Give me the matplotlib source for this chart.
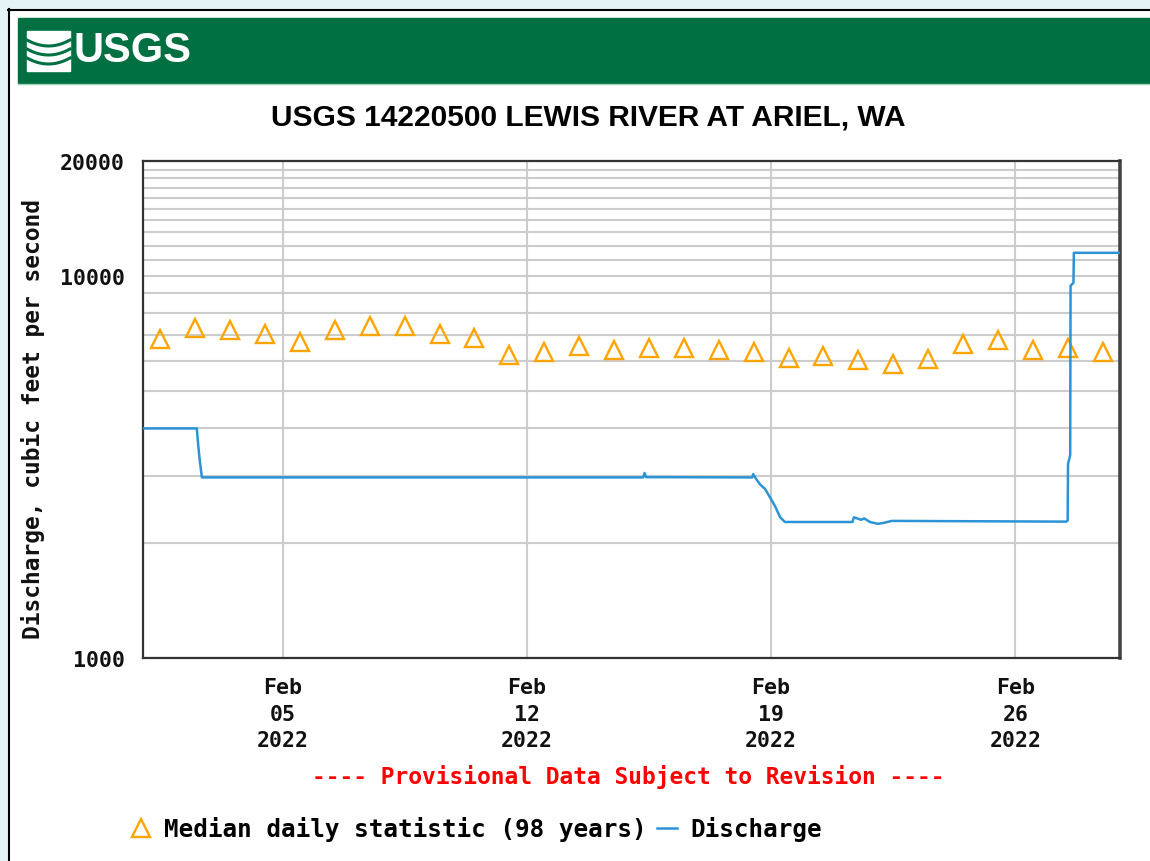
import matplotlib
matplotlib.use("Agg")
import matplotlib.pyplot as plt
import matplotlib.dates as mdates
from matplotlib.ticker import FixedLocator, FixedFormatter, NullFormatter
from matplotlib.patches import Rectangle
from matplotlib.lines import Line2D
import pandas as pd

W, H = 1150, 862

# --- data (cfs)
median_days = pd.date_range("2022-02-01 12:00", periods=28, freq="D")
median_cfs = [6860, 7310, 7200, 7050, 6720, 7200, 7380, 7380, 7050, 6870,
              6230, 6320, 6560, 6400, 6460, 6460, 6400, 6320, 6100, 6170,
              6030, 5870, 6080, 6620, 6780, 6400, 6460, 6320]

q_times = ["2022-02-01 00:00", "2022-02-02 13:00", "2022-02-02 14:00",
           "2022-02-02 15:00", "2022-02-02 16:30", "2022-02-15 08:00",
           "2022-02-15 09:00", "2022-02-15 10:00", "2022-02-18 11:00",
           "2022-02-18 11:45", "2022-02-18 13:00", "2022-02-18 16:20",
           "2022-02-18 19:50", "2022-02-18 23:20", "2022-02-19 02:40",
           "2022-02-19 06:15", "2022-02-19 09:30", "2022-02-21 08:00",
           "2022-02-21 09:00", "2022-02-21 14:00", "2022-02-21 16:00",
           "2022-02-21 20:00", "2022-02-22 01:30", "2022-02-22 06:00",
           "2022-02-22 11:00", "2022-02-27 11:00", "2022-02-27 12:00",
           "2022-02-27 12:15", "2022-02-27 13:45", "2022-02-27 14:00",
           "2022-02-27 16:00", "2022-02-27 16:15", "2022-03-01 00:00"]
q_cfs = [3990, 3990, 3600, 3300, 2970, 2970,
         3050, 2975, 2970,
         3030, 2970, 2850,
         2770, 2630, 2500,
         2335, 2270, 2270,
         2335, 2300, 2320,
         2270, 2245, 2260,
         2285, 2275, 2290,
         3220, 3400, 9430,
         9600, 11500, 11500]

x_ticks = ["2022-02-05", "2022-02-12", "2022-02-19", "2022-02-26"]
y_major = [1000, 10000, 20000]
y_minor = [2000, 3000, 4000, 5000, 6000, 7000, 8000, 9000,
           11000, 12000, 13000, 14000, 15000, 16000, 17000, 18000, 19000]

title = "USGS 14220500 LEWIS RIVER AT ARIEL, WA"
ylabel = "Discharge, cubic feet per second"
note = "---- Provisional Data Subject to Revision ----"
leg_labels = ["Median daily statistic (98 years)", "Discharge"]

mono = dict(family="DejaVu Sans Mono", weight="bold")
sans = ["Liberation Sans", "DejaVu Sans"]


def fx(x):
    return x / W


def fy(y):
    return 1 - y / H


fig = plt.figure(figsize=(W / 100, H / 100), dpi=100)
fig.patch.set_facecolor("white")

# page decoration: patterned page edge, border, green banner
fig.patches.append(Rectangle((0, fy(10)), 1, 10 / H, transform=fig.transFigure,
                             color="#e4f4f6", zorder=0))
fig.patches.append(Rectangle((0, 0), fx(8), 1, transform=fig.transFigure,
                             color="#e4f4f6", zorder=0))
fig.lines.append(Line2D([fx(8), 1], [fy(10.5), fy(10.5)], transform=fig.transFigure,
                        color="black", lw=1.5))
fig.lines.append(Line2D([fx(8.5), fx(8.5)], [0, fy(10)], transform=fig.transFigure,
                        color="black", lw=1.5))
fig.patches.append(Rectangle((fx(18), fy(84)), 1, 65 / H, transform=fig.transFigure,
                             color="#006f41", zorder=1))
fig.lines.append(Line2D([fx(18), 1], [fy(84.5), fy(84.5)], transform=fig.transFigure,
                        color="#9fd3b8", lw=1))
# logo
fig.patches.append(Rectangle((fx(27), fy(72)), 43 / W, 40 / H, transform=fig.transFigure,
                             color="white", zorder=2))
for k, yy in enumerate([44, 52, 60]):
    xs = [fx(27 + i * 43 / 12) for i in range(13)]
    ys = [fy(yy + 6 * (1 - ((i - 6) / 6) ** 2) - 3 + k) for i in range(13)]
    fig.lines.append(Line2D(xs, ys, transform=fig.transFigure, color="#006f41",
                            lw=2.2, zorder=3))
fig.text(fx(74), fy(51), "USGS", color="white", fontsize=30, family=sans,
         weight="bold", ha="left", va="center", zorder=3)

ax = fig.add_axes([fx(143), fy(659), (1120 - 143) / W, (659 - 162) / H])

ax.plot(median_days, median_cfs, linestyle="none", marker="^", ms=13,
        mfc="none", mec="#ffa500", mew=1.7, zorder=3,
        label=leg_labels[0])
ax.plot(pd.to_datetime(q_times), q_cfs, color="#2b93d6", lw=1.8, zorder=4,
        label=leg_labels[1])

ax.set_yscale("log")
ax.set_ylim(1000, 20000)
ax.set_xlim(pd.Timestamp("2022-02-01"), pd.Timestamp("2022-03-01"))

ax.yaxis.set_major_locator(FixedLocator(y_major))
ax.yaxis.set_major_formatter(FixedFormatter([str(v) for v in y_major]))
ax.yaxis.set_minor_locator(FixedLocator(y_minor))
ax.yaxis.set_minor_formatter(NullFormatter())
ax.xaxis.set_major_locator(FixedLocator(mdates.date2num(pd.to_datetime(x_ticks))))
ax.xaxis.set_major_formatter(mdates.DateFormatter("%b\n%d\n%Y"))

ax.grid(True, which="both", axis="y", color="#cccccc", lw=1.5)
ax.grid(True, which="major", axis="x", color="#cccccc", lw=1.5)
ax.set_axisbelow(True)

ax.tick_params(which="both", length=0)
ax.tick_params(axis="y", pad=13)
ax.tick_params(axis="x", pad=14)
for lab in ax.get_yticklabels() + ax.get_xticklabels():
    lab.set_fontsize(15.5)
    lab.set_fontfamily(mono["family"])
    lab.set_fontweight("bold")
    lab.set_color("#111111")
for lab in ax.get_xticklabels():
    lab.set_linespacing(1.4)

for s in ax.spines.values():
    s.set_color("#333333")
    s.set_linewidth(1.6)
ax.spines["right"].set_linewidth(2.6)
ax.spines["right"].set_color("#444444")

fig.text(fx(588), fy(118), title, fontsize=21.5, family=sans, weight="bold",
         ha="center", va="center")
fig.text(fx(33), fy(419), ylabel, rotation=90, fontsize=16.5, ha="center",
         va="center", color="#111111", **mono)
fig.text(fx(628), fy(777), note, fontsize=16.5, color="#ff0000", ha="center",
         va="center", **mono)

leg = ax.legend(loc="center left", bbox_to_anchor=(fx(131), fy(830)),
                bbox_transform=fig.transFigure, ncol=2, frameon=False,
                handlelength=0.8, handletextpad=0.55, columnspacing=0.45,
                borderpad=0, borderaxespad=0,
                prop=dict(size=17.5, **mono))

fig.savefig("out.png", dpi=100, facecolor=fig.get_facecolor())
